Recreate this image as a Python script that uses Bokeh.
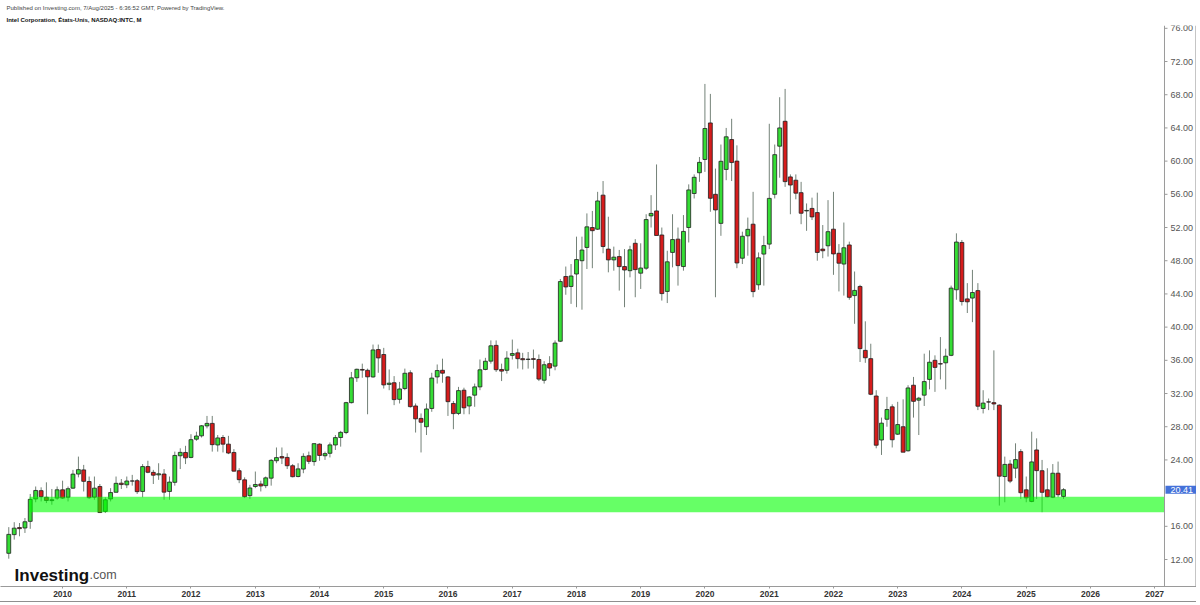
import pandas as pd
from bokeh.plotting import figure
from bokeh.models import (ColumnDataSource, Range1d, FixedTicker, DatetimeTickFormatter,
                          Label, Title, Span)
from bokeh.embed import file_html
from bokeh.resources import INLINE

# ---------------- data (monthly INTC, Mar 2009 - Aug 2025) ----------------
first_month = "2009-03-01"

opens = [
    12.75, 15.0, 15.85, 15.8, 16.6, 19.3, 20.3, 19.5, 19.1, 19.4,
    20.4, 19.5, 20.6, 22.3, 22.8, 21.4, 19.5, 20.8, 17.8, 19.3, 20.1, 21.2,
    21.0, 21.45, 21.5, 20.2, 23.2, 22.5, 22.2, 22.3, 20.2, 21.3, 24.5, 24.9,
    24.3, 26.5, 26.9, 28.1, 28.4, 25.8, 26.7, 25.9, 24.9, 22.7, 21.6, 19.7,
    20.8, 21.1, 20.9, 21.8, 23.9, 24.4, 24.3, 23.3, 22.0, 22.9, 24.5, 23.8,
    25.9, 24.5, 24.8, 25.8, 26.7, 27.3, 30.9, 33.9, 34.9, 34.8, 34.0, 37.3,
    36.7, 33.1, 33.3, 31.3, 32.6, 34.5, 30.5, 29.0, 28.0, 30.2, 34.0, 34.8,
    34.0, 30.8, 29.6, 32.4, 30.5, 31.8, 32.8, 34.9, 35.9, 37.8, 34.9, 34.8,
    36.6, 36.9, 36.2, 36.1, 36.2, 36.1, 33.6, 35.6, 35.3, 38.3, 46.1, 44.9,
    46.4, 48.0, 49.6, 52.0, 51.8, 55.9, 49.4, 48.1, 48.5, 47.3, 46.8, 50.1,
    46.5, 47.1, 53.4, 54.0, 51.1, 44.3, 49.0, 50.6, 47.3, 52.0, 56.1, 58.6,
    60.2, 64.6, 56.0, 52.5, 59.0, 62.6, 60.0, 48.3, 51.0, 52.4, 45.1, 48.8,
    50.0, 56.0, 61.8, 64.8, 58.1, 57.7, 56.2, 54.0, 54.3, 53.8, 49.4, 49.8,
    51.8, 48.9, 47.6, 49.9, 43.8, 44.9, 37.2, 36.2, 31.7, 26.4, 28.9, 30.4,
    27.1, 28.0, 25.1, 33.0, 31.2, 31.8, 33.7, 36.0, 35.6, 35.7, 36.6, 44.5,
    50.2, 43.4, 43.5, 44.4, 30.2, 31.0, 30.9, 30.6, 22.0, 23.5, 23.0, 25.0,
    20.4, 19.0, 25.2, 22.7, 20.4, 19.5, 22.4, 19.6,
]

highs = [
    15.9, 16.5, 16.4, 17.0, 19.9, 20.8, 20.7, 21.3, 20.5, 20.8,
    21.5, 20.8, 22.8, 24.4, 23.4, 22.0, 22.0, 21.1, 19.5, 20.6, 22.0, 21.7,
    22.0, 22.2, 21.7, 23.5, 23.9, 22.8, 23.6, 22.9, 22.0, 25.0, 25.4, 25.7,
    27.1, 27.4, 28.2, 29.3, 29.3, 27.0, 27.0, 26.9, 25.3, 23.0, 21.9, 21.0,
    22.6, 21.5, 22.0, 24.1, 25.5, 25.5, 24.8, 23.5, 23.6, 24.8, 25.0, 26.0,
    26.0, 25.0, 26.1, 27.0, 27.5, 31.0, 34.6, 35.0, 35.6, 35.0, 37.9, 37.9,
    37.5, 34.9, 34.1, 33.4, 35.0, 34.8, 30.8, 29.6, 30.8, 34.5, 35.5, 36.2,
    34.1, 31.1, 32.8, 32.7, 31.7, 33.2, 36.1, 36.3, 38.4, 38.4, 35.6, 37.1,
    38.5, 37.4, 36.9, 37.0, 37.3, 36.7, 35.9, 36.5, 38.4, 45.8, 47.3, 47.6,
    50.9, 50.9, 53.7, 54.0, 56.3, 57.6, 53.3, 49.7, 49.3, 49.4, 49.8, 50.6,
    50.1, 53.6, 55.9, 59.6, 52.0, 49.2, 53.6, 52.0, 53.5, 57.2, 58.4, 60.5,
    69.3, 68.1, 59.1, 62.0, 64.0, 65.1, 61.9, 51.5, 53.2, 56.3, 49.0, 51.0,
    64.5, 62.0, 67.7, 68.7, 58.4, 58.4, 57.5, 54.9, 55.6, 56.2, 52.3, 55.3,
    56.3, 50.0, 52.6, 50.3, 46.7, 45.1, 40.7, 38.0, 32.4, 29.1, 31.6, 30.7,
    31.0, 31.3, 33.0, 34.0, 31.6, 36.8, 37.2, 36.6, 38.8, 37.4, 45.0, 51.3,
    50.5, 45.3, 46.9, 45.3, 32.4, 31.4, 37.2, 30.7, 24.4, 24.0, 26.0, 25.3,
    22.0, 27.4, 26.6, 24.0, 23.0, 23.5, 23.8, 20.6,
]

lows = [
    12.1, 14.4, 14.8, 15.2, 15.7, 18.9, 19.0, 18.8, 18.6, 19.2,
    19.3, 19.0, 20.5, 21.9, 20.2, 19.3, 19.2, 17.6, 17.6, 19.0, 20.1, 20.5,
    20.6, 20.9, 19.9, 19.5, 22.4, 21.1, 21.6, 19.2, 19.2, 20.9, 22.9, 23.5,
    24.2, 26.3, 26.7, 27.8, 25.0, 25.0, 24.9, 24.7, 22.6, 21.2, 19.4, 19.3,
    20.6, 20.2, 20.6, 20.9, 23.6, 23.5, 22.9, 21.9, 21.9, 22.4, 23.5, 23.3,
    23.9, 24.0, 24.3, 25.2, 25.6, 27.1, 30.8, 33.4, 33.9, 29.5, 33.9, 34.5,
    32.6, 32.4, 30.6, 30.8, 32.4, 30.3, 27.3, 24.9, 27.0, 29.8, 33.2, 33.3,
    29.3, 27.7, 29.4, 29.5, 29.5, 30.4, 32.4, 34.8, 35.6, 34.6, 33.5, 34.4,
    36.1, 35.0, 34.9, 35.0, 35.0, 33.5, 33.2, 34.1, 34.8, 38.2, 43.9, 42.8,
    42.4, 42.1, 47.0, 47.1, 51.7, 48.9, 46.6, 46.8, 44.4, 42.4, 46.0, 43.6,
    44.6, 46.9, 52.0, 51.5, 43.2, 42.9, 47.2, 45.0, 46.8, 50.2, 55.5, 57.5,
    58.7, 53.9, 43.6, 51.0, 57.7, 57.6, 47.1, 47.6, 48.6, 43.6, 44.5, 45.0,
    49.4, 55.5, 58.0, 56.9, 53.6, 55.4, 52.4, 51.6, 52.9, 48.0, 48.3, 48.5,
    46.3, 44.3, 43.8, 43.3, 40.4, 35.8, 35.7, 31.8, 25.4, 24.6, 28.0, 25.5,
    27.0, 25.2, 25.0, 29.1, 27.0, 30.5, 32.5, 32.2, 33.7, 32.5, 36.5, 43.3,
    42.6, 41.7, 40.6, 30.0, 29.6, 30.0, 30.0, 18.5, 18.9, 21.2, 21.8, 19.3,
    18.9, 18.9, 19.3, 17.7, 19.5, 19.4, 19.5, 19.3,
]

closes = [
    15.03, 15.78, 15.72, 16.55, 19.25, 20.32, 19.57, 19.11, 19.20, 20.40,
    19.40, 20.53, 22.29, 22.83, 21.42, 19.45, 20.60, 17.66, 19.20, 20.07, 21.18, 21.03,
    21.46, 21.47, 20.18, 23.20, 22.51, 22.16, 22.33, 20.12, 21.33, 24.54, 24.91, 24.25,
    26.44, 26.88, 28.11, 28.40, 25.84, 26.65, 25.90, 24.83, 22.65, 21.62, 19.57, 20.62,
    21.04, 20.86, 21.84, 23.95, 24.28, 24.23, 23.30, 21.98, 22.92, 24.43, 23.83, 25.96,
    24.54, 24.76, 25.81, 26.69, 27.32, 30.90, 33.89, 34.92, 34.82, 34.01, 37.25, 36.29,
    33.04, 33.25, 31.27, 32.55, 34.44, 30.42, 28.95, 28.54, 30.14, 33.86, 34.77, 34.45,
    31.02, 29.58, 32.35, 30.28, 31.59, 32.80, 34.86, 35.89, 37.75, 34.87, 34.70, 36.27,
    36.82, 36.20, 36.07, 36.15, 36.11, 33.74, 35.47, 35.07, 38.08, 45.49, 44.84, 46.16,
    48.14, 49.29, 52.08, 51.62, 55.20, 49.71, 48.10, 48.43, 47.29, 46.88, 49.31, 46.93,
    47.12, 52.96, 53.70, 51.04, 44.04, 47.87, 50.55, 47.41, 51.53, 56.53, 58.05, 59.85,
    63.93, 55.52, 54.12, 59.98, 62.93, 59.83, 47.73, 50.95, 51.78, 44.28, 48.35, 49.82,
    55.51, 60.78, 64.00, 57.53, 57.12, 56.14, 53.72, 54.06, 53.28, 49.00, 49.20, 51.50,
    48.82, 47.70, 49.56, 43.59, 44.42, 37.41, 36.31, 31.91, 25.77, 28.43, 30.07, 26.43,
    28.26, 24.93, 32.67, 31.06, 31.44, 33.44, 35.77, 35.15, 35.55, 36.50, 44.70, 50.25,
    43.08, 43.05, 44.17, 30.47, 30.85, 30.97, 30.74, 22.04, 23.46, 21.45, 24.04, 20.05,
    19.43, 23.76, 22.71, 20.10, 19.55, 22.40, 19.81, 20.41,
]

year_ticks = list(range(2010, 2028))
price_ticks = [12, 16, 24, 28, 32, 36, 40, 44, 48, 52, 56, 60, 64, 68, 72, 76]
last_price = 20.41
support_zone = (17.7, 19.55)
support_start = "2009-06-27"

header_line1 = "Published on Investing.com, 7/Aug/2025 - 6:36:52 GMT, Powered by TradingView."
header_line2 = "Intel Corporation, États-Unis, NASDAQ:INTC, M"

# ---------------- build ----------------
def ms(ts):
    return pd.Timestamp(ts).value // 10**6

months = pd.date_range(first_month, periods=len(closes), freq="MS")
up = [c >= o for o, c in zip(opens, closes)]
src = ColumnDataSource(dict(
    t=months,
    o=opens, h=highs, l=lows, c=closes,
    top=[max(o, c) for o, c in zip(opens, closes)],
    bot=[min(o, c) for o, c in zip(opens, closes)],
    fill=["#35dd35" if u else "#d61c1c" for u in up],
))

x_start = "2009-01-13"     # left edge of the chart pane
pane_end = "2027-02-26"    # right edge of the chart pane (price scale starts here)
x_end = "2027-08-27"       # right edge of the price-scale strip
FONT = "Liberation Sans"
GRAY = "#9a9a9a"

p = figure(width=1196, height=602, x_axis_type="datetime", y_axis_location=None,
           x_range=Range1d(ms(x_start), ms(x_end)), y_range=Range1d(8.75, 76.34),
           output_backend="svg", toolbar_location=None, title=None,
           min_border_left=0, min_border_right=0, min_border_top=25, min_border_bottom=16,
           background_fill_color="white", border_fill_color="white")
p.outline_line_color = None
p.grid.visible = False
p.styles = {"border-bottom": "1px solid #8f8f8f"}

day_ms = 86400000
p.segment(x0="t", y0="l", x1="t", y1="h", source=src, line_color="#748278", line_width=1)
p.vbar(x="t", top="top", bottom="bot", width=22 * day_ms, source=src,
       fill_color="fill", line_color="#1e1e1e", line_width=0.8)

# support band (drawn on top, semi-transparent)
p.quad(left=[ms(support_start)], right=[ms(pane_end)],
       bottom=[support_zone[0]], top=[support_zone[1]],
       fill_color="#00ff00", fill_alpha=0.6, line_color=None)

# ---- price scale strip (right) ----
p.add_layout(Span(location=ms(pane_end), dimension="height", line_color=GRAY, line_width=1))
right_border = ms(x_end) - (ms(x_end) - ms(pane_end)) / 64
p.add_layout(Span(location=right_border, dimension="height", line_color="#8f8f8f", line_width=1))
scale_src = ColumnDataSource(dict(
    x=[ms(pane_end)] * len(price_ticks),
    y=price_ticks,
    txt=[f"{v:.2f}" for v in price_ticks],
))
p.ray(x="x", y="y", length=3, length_units="screen", angle=0, source=scale_src,
      line_color=GRAY, line_width=1)
p.text(x="x", y="y", text="txt", source=scale_src, x_offset=6,
       text_font={"value": FONT}, text_font_size="9px", text_color="#555555",
       text_baseline="middle", text_align="left")

# last price tag
p.add_layout(Label(x=ms(pane_end), y=last_price, text=f"{last_price:.2f}",
                   text_font=FONT, text_font_size="9px", text_color="white",
                   text_baseline="middle", text_align="left", x_offset=1,
                   background_fill_color="#4471d9",
                   padding=dict(left=5, right=4, top=1, bottom=1)))

# ---- time axis ----
xa = p.xaxis[0]
xa.ticker = FixedTicker(ticks=[ms(f"{y}-01-01") for y in year_ticks])
xa.formatter = DatetimeTickFormatter(years="%Y", months="%Y", days="%Y", hours="%Y")
xa.major_label_text_font = FONT
xa.major_label_text_font_size = "8.5px"
xa.major_label_text_font_style = "bold"
xa.major_label_text_color = "#333333"
xa.axis_line_color = GRAY
xa.major_tick_line_color = GRAY
xa.major_tick_in = 0
xa.major_tick_out = 2
xa.minor_tick_line_color = None
xa.major_label_standoff = 2

# header
p.add_layout(Title(text=header_line2, align="left", text_font=FONT, text_font_size="6px",
                   text_font_style="bold", text_color="#111111", standoff=5, offset=6), "above")
p.add_layout(Title(text=header_line1, align="left", text_font=FONT, text_font_size="6px",
                   text_font_style="normal", text_color="#444444", standoff=4, offset=6), "above")

# logo
p.add_layout(Label(x=ms("2009-04-03"), y=10.1, text="Investing",
                   text_font=FONT, text_font_size="17px", text_font_style="bold",
                   text_color="#111111", text_baseline="alphabetic"))
p.add_layout(Label(x=ms("2010-06-03"), y=10.1, text=".com",
                   text_font=FONT, text_font_size="12.5px", text_color="#555555",
                   text_baseline="alphabetic"))

open("out.html", "w").write(file_html(p, INLINE))
